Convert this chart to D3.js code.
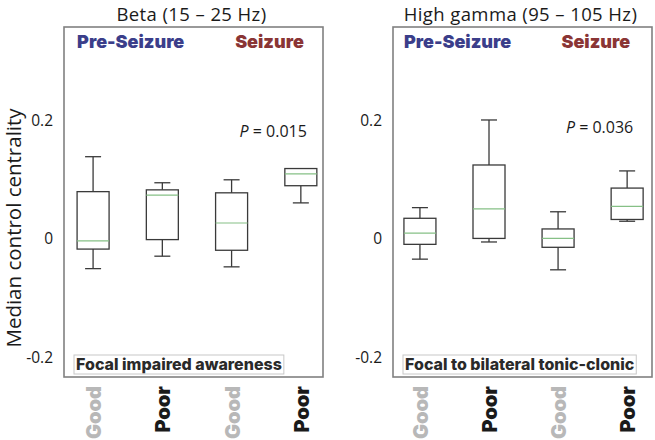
<!DOCTYPE html>
<html><head><meta charset="utf-8">
<script src="https://cdn.jsdelivr.net/npm/d3@7"></script>
<style>body{margin:0;background:#fff}svg{display:block}</style>
</head><body>
<svg id="c" width="655" height="440"></svg>
<script>
const categories = ["Good", "Poor", "Good", "Poor"];
const categoryColors = ["#b8b8b8", "#1a1a1a", "#b8b8b8", "#1a1a1a"];
const panelTitles = ["Beta (15 – 25 Hz)", "High gamma (95 – 105 Hz)"];
const panelTypes = ["Focal impaired awareness", "Focal to bilateral tonic-clonic"];
const pValues = ["0.015", "0.036"];
const yTicks = [-0.2, 0, 0.2];
const yTickLabels = ["-0.2", "0", "0.2"];
// [low whisker, Q1, median, Q3, high whisker]
const betaBoxes = [
  [-0.050, -0.017, -0.003, 0.080, 0.139],
  [-0.029, -0.001, 0.074, 0.083, 0.095],
  [-0.047, -0.019, 0.027, 0.078, 0.100],
  [0.061, 0.090, 0.110, 0.119, 0.119]
];
const gammaBoxes = [
  [-0.034, -0.009, 0.010, 0.035, 0.053],
  [-0.005, 0.001, 0.051, 0.125, 0.201],
  [-0.052, -0.014, 0.001, 0.017, 0.046],
  [0.030, 0.033, 0.055, 0.086, 0.115]
];
const panelsData = [betaBoxes, gammaBoxes];

const svg = d3.select("#c");
const panels = [
  {x0: 64, x1: 323, dom: [0.58, 4.32]},
  {x0: 393, x1: 652, dom: [0.61, 4.36]}
];
const y = d3.scaleLinear().domain([-0.233, 0.358]).range([377, 27]);
const boxW = 32;
const heavy = "Inter";

// y label
svg.append("text")
  .attr("transform", "translate(21,228) rotate(-90)")
  .attr("text-anchor", "middle")
  .attr("font-family", "Open Sans")
  .attr("font-size", 20.5)
  .attr("fill", "#1a1a1a")
  .text("Median control centrality");

panels.forEach((p, pi) => {
  const x = d3.scaleLinear().domain(p.dom).range([p.x0, p.x1]);
  const g = svg.append("g");
  const boxes = panelsData[pi];

  // title
  g.append("text")
    .attr("x", (p.x0 + p.x1) / 2 - 2)
    .attr("y", 20.5)
    .attr("text-anchor", "middle")
    .attr("font-family", "Open Sans")
    .attr("font-size", 18.5)
    .attr("letter-spacing", 0.4)
    .attr("fill", "#1a1a1a")
    .text(panelTitles[pi]);

  // y tick labels
  const yAxis = d3.axisLeft(y).tickValues(yTicks).tickSize(0).tickPadding(11)
    .tickFormat((d, i) => yTickLabels[i]);
  const ag = g.append("g").attr("transform", `translate(${p.x0},0)`).call(yAxis);
  ag.select(".domain").remove();
  ag.selectAll("text").attr("font-family", "Open Sans").attr("font-size", 15.5).attr("fill", "#1a1a1a");

  // frame
  g.append("rect")
    .attr("x", p.x0).attr("y", y.range()[1])
    .attr("width", p.x1 - p.x0).attr("height", y.range()[0] - y.range()[1])
    .attr("fill", "none").attr("stroke", "#808080").attr("stroke-width", 1.6);

  // phase labels
  g.append("text").attr("x", x(1) - 16).attr("y", 48)
    .attr("font-family", heavy).attr("font-weight", 900).attr("font-size", 18)
    .attr("fill", "#3b3e8a").text("Pre-Seizure");
  g.append("text").attr("x", x(4) + 3).attr("y", 48).attr("text-anchor", "end")
    .attr("font-family", heavy).attr("font-weight", 900).attr("font-size", 18)
    .attr("fill", "#8a3535").text("Seizure");

  // p value
  const pt = g.append("text").attr("x", x(3.5) + 7).attr("y", pi === 0 ? 137 : 133)
    .attr("text-anchor", "middle")
    .attr("font-family", "Open Sans").attr("font-size", 16).attr("fill", "#1a1a1a");
  pt.append("tspan").attr("font-style", "italic").text("P");
  pt.append("tspan").text(" = " + pValues[pi]);

  // boxes
  boxes.forEach((b, i) => {
    const cx = x(i + 1);
    const [lo, q1, med, q3, hi] = b;
    const bg = g.append("g").attr("stroke", "#3a3a3a").attr("stroke-width", 1.3).attr("fill", "none");
    if (hi > q3) {
      bg.append("line").attr("x1", cx).attr("x2", cx).attr("y1", y(q3)).attr("y2", y(hi));
      bg.append("line").attr("x1", cx - 8).attr("x2", cx + 8).attr("y1", y(hi)).attr("y2", y(hi));
    }
    if (lo < q1) {
      bg.append("line").attr("x1", cx).attr("x2", cx).attr("y1", y(q1)).attr("y2", y(lo));
      bg.append("line").attr("x1", cx - 8).attr("x2", cx + 8).attr("y1", y(lo)).attr("y2", y(lo));
    }
    bg.append("rect").attr("x", cx - boxW / 2).attr("y", y(q3))
      .attr("width", boxW).attr("height", y(q1) - y(q3));
    g.append("line").attr("x1", cx - boxW / 2).attr("x2", cx + boxW / 2)
      .attr("y1", y(med)).attr("y2", y(med))
      .attr("stroke", "#86c086").attr("stroke-width", 1.2);
  });

  // seizure type label
  const lg = g.append("g");
  const lbox = lg.append("rect");
  const lt = lg.append("text").attr("x", p.x0 + 12).attr("y", 370)
    .attr("font-family", heavy).attr("font-weight", 800).attr("font-size", 16)
    .attr("fill", "#2a2a2a").text(panelTypes[pi]);
  const bb = lt.node().getBBox();
  lbox.attr("x", bb.x - 2).attr("y", 355).attr("width", bb.width + 4).attr("height", 19)
    .attr("fill", "#fff").attr("stroke", "#c8c8c8").attr("stroke-width", 1);

  // category labels
  categories.forEach((c, i) => {
    g.append("text")
      .attr("transform", `translate(${x(i + 1) + 8},386) rotate(-90)`)
      .attr("text-anchor", "end")
      .attr("font-family", heavy).attr("font-weight", 900).attr("font-size", 20)
      .attr("fill", categoryColors[i]).text(c);
  });
});
</script>
</body></html>
